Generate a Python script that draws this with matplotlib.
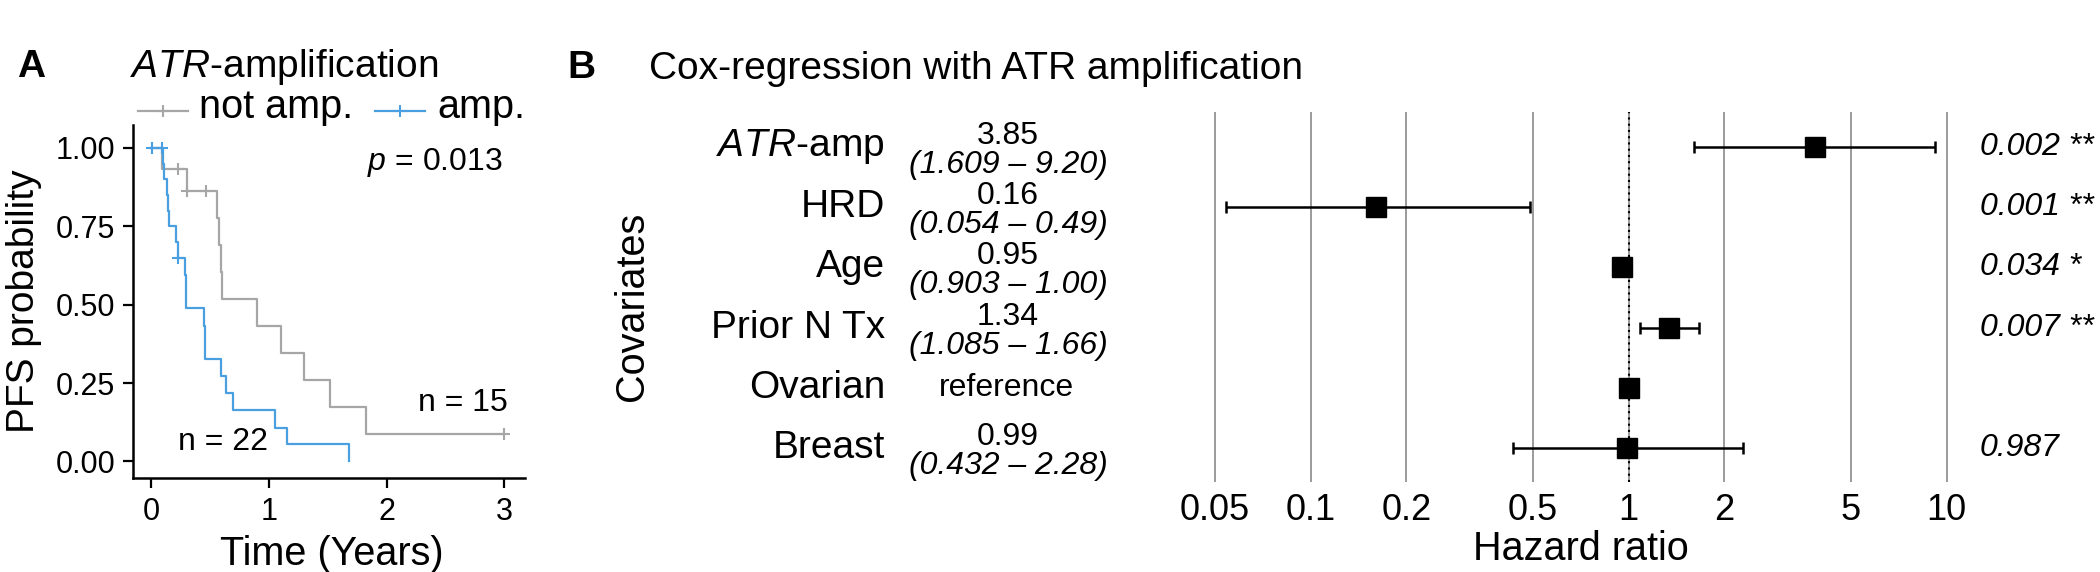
import numpy as np
import matplotlib
matplotlib.use("Agg")
import matplotlib.pyplot as plt
from matplotlib.lines import Line2D
from matplotlib import transforms

plt.rcParams['font.family'] = ['Liberation Sans', 'DejaVu Sans']
plt.rcParams['mathtext.fontset'] = 'custom'
plt.rcParams['mathtext.rm'] = 'Liberation Sans'
plt.rcParams['mathtext.it'] = 'Liberation Sans:italic'
plt.rcParams['mathtext.bf'] = 'Liberation Sans:bold'

# panel A: Kaplan-Meier steps
not_amp_t = [0, 0.092, 0.304, 0.559, 0.579, 0.593, 0.601, 0.898, 1.104, 1.302, 1.52, 1.823, 3.0]
not_amp_s = [1, 0.933, 0.862, 0.776, 0.690, 0.603, 0.517, 0.431, 0.345, 0.259, 0.172, 0.086, 0.086]
not_amp_cens = [0.233, 0.31, 0.468, 3.0]

amp_t = [0, 0.100, 0.112, 0.135, 0.145, 0.155, 0.214, 0.228, 0.290, 0.294, 0.298,
         0.454, 0.458, 0.463, 0.595, 0.638, 0.700, 1.054, 1.152, 1.684]
amp_s = [1, 0.95, 0.90, 0.85, 0.80, 0.75, 0.70, 0.65, 0.596, 0.542, 0.488,
         0.433, 0.379, 0.325, 0.271, 0.217, 0.163, 0.108, 0.054, 0.0]
amp_cens = [0.008, 0.092, 0.234]

# panel B: cox regression
covariates = [r'$\mathit{ATR}$-amp', 'HRD', 'Age', 'Prior N Tx', 'Ovarian', 'Breast']
hr = [3.85, 0.16, 0.95, 1.34, 1.0, 0.99]
ci_lo = [1.609, 0.054, 0.903, 1.085, np.nan, 0.432]
ci_hi = [9.20, 0.49, 1.00, 1.66, np.nan, 2.28]
p_labels = ['0.002 **', '0.001 **', '0.034 *', '0.007 **', '', '0.987']
hr_ticks = [0.05, 0.1, 0.2, 0.5, 1, 2, 5, 10]

grey = '#a6a6a6'
blue = '#4a9fe0'

W, H = 2100, 572
fig = plt.figure(figsize=(21, 5.72), dpi=100)


def fx(px):
    return px / W


def fy(py):
    return 1 - py / H


# ---------------- panel A
ax = fig.add_axes([fx(132.7), fy(478), fx(525) - fx(132.7), fy(125) - fy(478)])

def censor_y(t_steps, s_steps, tc):
    idx = np.searchsorted(t_steps, tc, side='right') - 1
    return np.array(s_steps)[idx]

for t, s, c, col in [(not_amp_t, not_amp_s, not_amp_cens, grey),
                     (amp_t, amp_s, amp_cens, blue)]:
    ax.step(t, s, where='post', color=col, lw=1.6)
    ax.plot(c, censor_y(t, s, c), ls='none', marker='+', ms=8, mew=1.5, color=col)

ax.set_xlim(-0.154, 3.174)
ax.set_ylim(-0.053, 1.073)
ax.set_xticks([0, 1, 2, 3])
ax.set_yticks([0, 0.25, 0.5, 0.75, 1.0])
ax.set_yticklabels(['0.00', '0.25', '0.50', '0.75', '1.00'])
for sp in ['top', 'right']:
    ax.spines[sp].set_visible(False)
for sp in ['left', 'bottom']:
    ax.spines[sp].set_linewidth(1.8)
ax.tick_params(labelsize=22, length=7.5, width=1.6)
ax.tick_params(axis='x', pad=6)
ax.tick_params(axis='y', pad=5)

ax.text(2.987, 0.952, r'$p$ = 0.013', ha='right', va='center', fontsize=23)
ax.text(3.03, 0.187, 'n = 15', ha='right', va='center', fontsize=23)
ax.text(0.23, 0.062, 'n = 22', ha='left', va='center', fontsize=23)

fig.text(fx(17), fy(77), 'A', fontsize=28, weight='bold', va='baseline')
fig.text(fx(130), fy(77), r'$\mathit{ATR}$-amplification', fontsize=28, va='baseline')
for x0, x1, col, lab, xt in [(138, 188, grey, 'not amp.', 199), (375, 425, blue, 'amp.', 437)]:
    fig.add_artist(Line2D([fx(x0), fx(x1)], [fy(111), fy(111)], color=col, lw=1.6,
                          transform=fig.transFigure))
    fig.add_artist(Line2D([fx((x0 + x1) / 2)], [fy(111)], color=col, marker='+', ms=8,
                          mew=1.5, transform=fig.transFigure))
    fig.text(fx(xt), fy(118), lab, fontsize=28.5, va='baseline')

fig.text(fx(24), fy(301.5), 'PFS probability', rotation=90, ha='center', va='center', fontsize=28)
fig.text(fx(332), fy(565), 'Time (Years)', ha='center', va='baseline', fontsize=28.5)

# ---------------- panel B
axb = fig.add_axes([fx(1215), fy(481.7), fx(1946.7) - fx(1215), fy(111.7) - fy(481.7)])
axb.set_xscale('log')
axb.set_xlim(0.05, 10)
axb.set_ylim(5.555, -0.58)
rows = np.arange(len(covariates))

axb.vlines(hr_ticks, 5.555, -0.58, color='#808080', lw=1.1, zorder=0, clip_on=False)
axb.axvline(1, color='black', lw=1.5, ls=(0, (1, 2)), zorder=1)

hr_a = np.array(hr)
lo_a = np.array(ci_lo)
hi_a = np.array(ci_hi)
ok = ~np.isnan(lo_a)
axb.errorbar(hr_a[ok], rows[ok], xerr=[hr_a[ok] - lo_a[ok], hi_a[ok] - hr_a[ok]],
             fmt='none', ecolor='black', elinewidth=1.8, capsize=4, capthick=1.8, zorder=2)
axb.plot(hr_a, rows, ls='none', marker='s', ms=15, color='black', zorder=3)

axb.set_xticks(hr_ticks)
axb.set_xticklabels(['0.05', '0.1', '0.2', '0.5', '1', '2', '5', '10'])
axb.xaxis.set_minor_locator(matplotlib.ticker.NullLocator())
axb.set_yticks([])
axb.tick_params(axis='x', length=0, labelsize=26, pad=8)
for sp in axb.spines.values():
    sp.set_visible(False)

trans = transforms.blended_transform_factory(fig.transFigure, axb.transData)
for i, name in enumerate(covariates):
    axb.text(fx(885), i, name, ha='right', va='center', fontsize=28, transform=trans)
    if np.isnan(ci_lo[i]):
        axb.text(fx(1006), i, 'reference', ha='center', va='center', fontsize=23, transform=trans)
    else:
        axb.text(fx(1008), i - 0.18, f'{hr[i]:.2f}', ha='center', va='center', fontsize=23,
                 transform=trans)
        axb.text(fx(1008), i + 0.30, f'({ci_lo[i]:.3f} – {ci_hi[i]:.2f})', ha='center',
                 va='center', fontsize=23, style='italic', transform=trans)
    if p_labels[i]:
        axb.text(fx(1980), i, p_labels[i], ha='left', va='center', fontsize=23,
                 style='italic', transform=trans)

fig.text(fx(567), fy(78), 'B', fontsize=28, weight='bold', va='baseline')
fig.text(fx(649), fy(79), 'Cox-regression with ATR amplification', fontsize=28, va='baseline')
fig.text(fx(632), fy(306.5), 'Covariates', rotation=90, ha='center', va='center', fontsize=28.5)
fig.text(fx(1581), fy(560), 'Hazard ratio', ha='center', va='baseline', fontsize=28.5)

fig.savefig('out.png', dpi=100)
